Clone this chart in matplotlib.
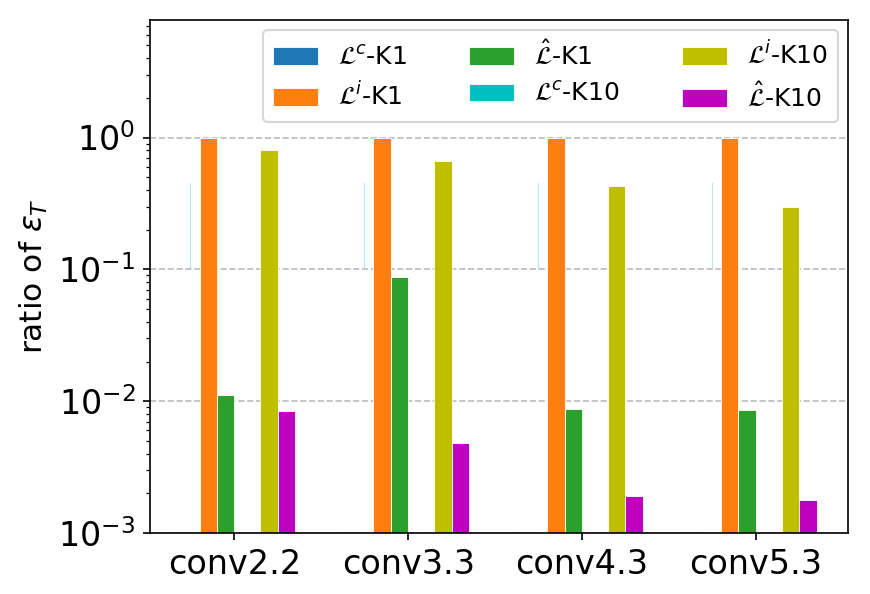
import matplotlib
matplotlib.use("Agg")
import matplotlib.pyplot as plt
import numpy as np
from matplotlib.patches import Patch

categories = ["conv2.2", "conv3.3", "conv4.3", "conv5.3"]
labels = [r"$\mathcal{L}^c$-K1", r"$\mathcal{L}^i$-K1", r"$\hat{\mathcal{L}}$-K1",
          r"$\mathcal{L}^c$-K10", r"$\mathcal{L}^i$-K10", r"$\hat{\mathcal{L}}$-K10"]
colors = ["#1f77b4", "#ff7f0e", "#2ca02c", "#00bfbf", "#bfbf00", "#bf00bf"]

Li_K1 = [1.0, 1.0, 1.0, 1.0]
Lhat_K1 = [0.0112, 0.088, 0.0087, 0.0086]
Li_K10 = [0.81, 0.66, 0.43, 0.295]
Lhat_K10 = [0.0084, 0.00485, 0.0019, 0.00178]
Lc_K1 = [1e-5, 1e-5, 1e-5, 1e-5]
Lc_line_bottom = [0.1, 0.1, 0.1, 0.1]
Lc_line_top = [0.45, 0.45, 0.45, 0.45]

fig = plt.figure(figsize=(5.8, 3.96), dpi=150)
ax = fig.add_axes([0.1724, 0.1027, 0.8023, 0.8636])

x = np.arange(len(categories))
w = 0.1
ax.bar(x - 0.25, Lc_K1, w, color=colors[0], edgecolor="white", linewidth=0.4)
ax.bar(x - 0.15, Li_K1, w, color=colors[1], edgecolor="white", linewidth=0.4)
ax.bar(x - 0.05, Lhat_K1, w, color=colors[2], edgecolor="white", linewidth=0.4)
ax.bar(x + 0.20, Li_K10, w, color=colors[4], edgecolor="white", linewidth=0.4)
ax.bar(x + 0.30, Lhat_K10, w, color=colors[5], edgecolor="white", linewidth=0.4)
ax.bar(x - 0.25, np.array(Lc_line_top) - np.array(Lc_line_bottom), 0.004,
       bottom=Lc_line_bottom, color=colors[3], alpha=0.3, linewidth=0)

ax.set_yscale("log")
ax.set_ylim(1e-3, 7.8)
ax.set_xlim(-0.485, 3.53)
ax.set_xticks(x)
ax.set_xticklabels(categories, fontsize=16)
ax.tick_params(axis="y", labelsize=16)
ax.set_ylabel(r"ratio of $\epsilon_T$", fontsize=15)
ax.grid(axis="y", which="major", linestyle="--", color="#bbbbbb", linewidth=0.8)
ax.set_axisbelow(True)

handles = [Patch(facecolor=c, edgecolor="white", linewidth=0.4) for c in colors]
ax.legend(handles, labels, ncol=3, loc="upper right", fontsize=12,
          handlelength=1.8, columnspacing=2.5, borderaxespad=0.4,
          labelspacing=0.5)

fig.savefig("out.png", dpi=150)
